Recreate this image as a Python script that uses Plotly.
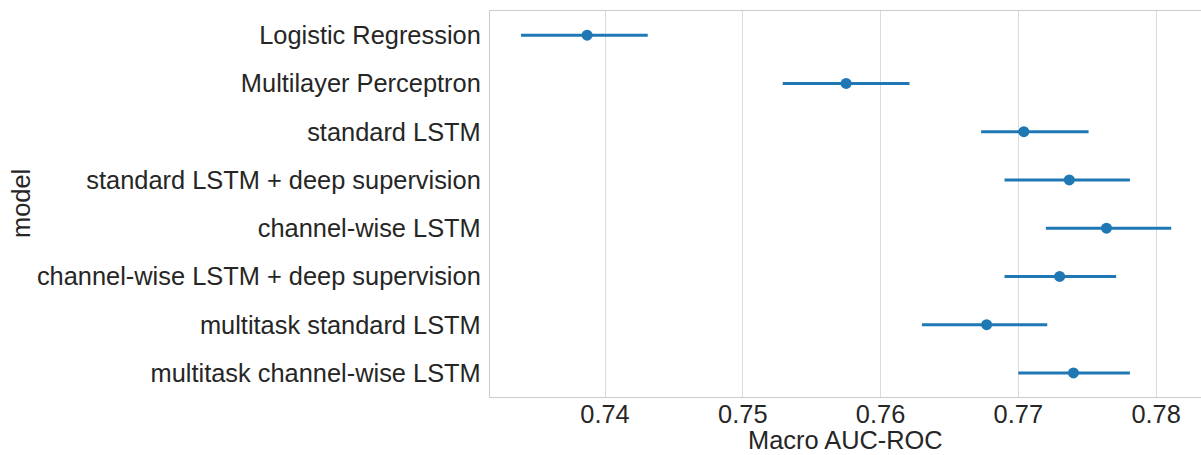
import plotly.graph_objects as go

models = [
    "Logistic Regression",
    "Multilayer Perceptron",
    "standard LSTM",
    "standard LSTM + deep supervision",
    "channel-wise LSTM",
    "channel-wise LSTM + deep supervision",
    "multitask standard LSTM",
    "multitask channel-wise LSTM",
]
auc_mean = [0.7387, 0.7575, 0.7704, 0.7737, 0.7764, 0.7730, 0.7677, 0.7740]
auc_low = [0.7339, 0.7529, 0.7673, 0.7690, 0.7720, 0.7690, 0.7630, 0.7700]
auc_high = [0.7431, 0.7621, 0.7751, 0.7781, 0.7811, 0.7771, 0.7721, 0.7781]

x_ticks = [0.74, 0.75, 0.76, 0.77, 0.78]

err_plus = [h - m for h, m in zip(auc_high, auc_mean)]
err_minus = [m - l for m, l in zip(auc_mean, auc_low)]

blue = "#1f77b4"
text_color = "#262626"
grid_color = "#dcdcdc"
spine_color = "#cccccc"
font_size = 25.4

fig = go.Figure()
fig.add_trace(go.Scatter(
    x=auc_mean,
    y=models,
    mode="markers",
    marker=dict(color=blue, size=11),
    error_x=dict(
        type="data",
        symmetric=False,
        array=err_plus,
        arrayminus=err_minus,
        color=blue,
        thickness=3,
        width=0,
    ),
    showlegend=False,
))

font_family = "Liberation Sans, Arial, sans-serif"

# Axis titles placed as annotations for tight control of their position
fig.add_annotation(
    text="Macro AUC-ROC", xref="paper", yref="paper", x=0.5, y=0,
    xanchor="center", yanchor="top", yshift=-28, showarrow=False,
    borderpad=0, font=dict(size=font_size, color=text_color),
)
fig.add_annotation(
    text="model", xref="paper", yref="paper", x=0, y=0.5,
    xanchor="center", yanchor="middle", xshift=-469, textangle=-90,
    showarrow=False, font=dict(size=font_size, color=text_color),
)

fig.update_layout(
    width=1201,
    height=455,
    margin=dict(l=490, r=0, t=11, b=58),
    paper_bgcolor="white",
    plot_bgcolor="white",
    font=dict(family=font_family, size=font_size, color=text_color),
    xaxis=dict(
        range=[0.73165, 0.78326],
        tickvals=x_ticks,
        ticktext=[f"{v:.2f}" for v in x_ticks],
        showgrid=True,
        gridcolor=grid_color,
        gridwidth=1.3,
        zeroline=False,
        showline=True,
        linecolor=spine_color,
        linewidth=1.3,
        mirror=True,
        ticks="",
        ticklen=0,
        ticklabelstandoff=-6,
        tickfont=dict(size=font_size, color=text_color),
    ),
    yaxis=dict(
        categoryorder="array",
        categoryarray=models,
        range=[7.5, -0.5],
        showgrid=False,
        zeroline=False,
        showline=True,
        linecolor=spine_color,
        linewidth=1.3,
        ticks="outside",
        ticklen=3,
        tickcolor="rgba(0,0,0,0)",
        tickfont=dict(size=font_size, color=text_color),
    ),
)

fig.write_html("out.html")
